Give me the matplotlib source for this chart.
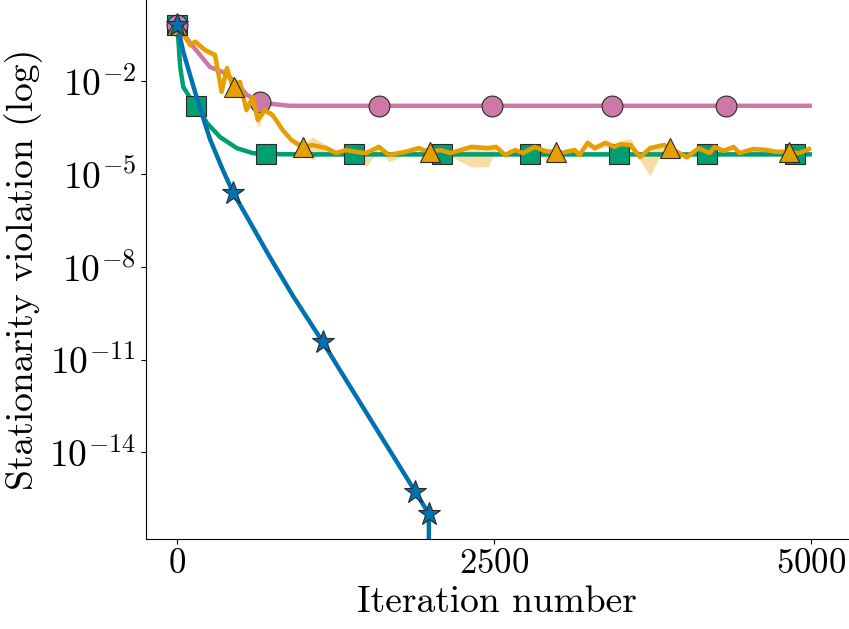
import numpy as np
import matplotlib
matplotlib.use("Agg")
import matplotlib.pyplot as plt

plt.rcParams["font.family"] = "serif"
plt.rcParams["font.serif"] = ["cmr10"]
plt.rcParams["mathtext.fontset"] = "cm"
plt.rcParams["axes.formatter.use_mathtext"] = True
plt.rcParams["font.size"] = 27

# --- data (log10 of stationarity violation) ---
blue_x = [0, 47, 157, 259, 360, 441, 572, 729, 909, 1147, 1277, 1878, 1985]
blue_log = [-0.19, -1.05, -2.59, -3.89, -4.88, -5.61, -6.55, -7.68, -8.92,
            -10.43, -11.30, -15.27, -15.99]
blue_zero_x = 1990  # violation hits exactly zero here
blue_mark_x = [0, 441, 1147, 1878, 1985]

green_x = [0, 23, 47, 102, 157, 235, 337, 470, 596, 752, 1000, 4990]
green_log = [-0.19, -1.55, -2.19, -2.55, -2.84, -3.36, -3.81, -4.17, -4.33,
             -4.36, -4.37, -4.37]
green_mark_x = [0, 149, 703, 1395, 2087, 2785, 3485, 4180, 4877]

pink_x = [0, 102, 180, 259, 361, 470, 549, 651, 752, 886, 4990]
pink_log = [-0.19, -0.77, -1.16, -1.55, -1.71, -2.06, -2.45, -2.68, -2.74,
            -2.80, -2.80]
pink_mark_x = [0, 650, 1591, 2484, 3433, 4328]

orange_x = [0, 102, 141, 219, 298, 350, 392, 439, 494, 546, 596, 635, 690,
            752, 831, 901, 987, 1066, 1176, 1254, 1332, 1411, 1489, 1591,
            1669, 1803, 1904, 1983, 2077, 2155, 2320, 2453, 2516, 2586, 2665,
            2727, 2821, 2900, 3025, 3135, 3174, 3237, 3292, 3378, 3448, 3495,
            3574, 3652, 3730, 3840, 3942, 4020, 4114, 4200, 4240, 4310, 4389,
            4436, 4545, 4647, 4726, 4828, 4906, 4984]
orange_log = [-0.19, -0.84, -0.73, -1.00, -1.16, -2.35, -1.58, -2.23, -2.03,
              -2.94, -2.52, -3.26, -2.94, -3.10, -3.58, -3.91, -4.13, -4.07,
              -4.17, -4.33, -4.23, -4.29, -4.33, -4.13, -4.39, -4.29, -4.17,
              -4.29, -4.23, -4.33, -4.13, -4.17, -4.13, -4.39, -4.23, -4.33,
              -4.13, -4.26, -4.33, -4.23, -4.39, -4.00, -4.17, -4.00, -4.13,
              -4.04, -4.07, -4.46, -4.17, -4.07, -4.29, -4.46, -4.17, -4.33,
              -4.13, -4.26, -4.13, -4.33, -4.20, -4.23, -4.29, -4.29, -4.33,
              -4.20]
# spread of the shaded band below / above the mean (in decades)
orange_down = [0.1] * 64
orange_up = [0.1] * 64
for i, d in [(11, 0.25), (17, 0.48), (22, 0.44), (24, 0.22), (30, 0.65),
             (31, 0.6), (37, 0.3), (48, 0.9)]:
    orange_down[i] = d
for i, u in [(17, 0.26), (41, 0.12), (46, 0.22)]:
    orange_up[i] = u
orange_mark_x = [0, 449, 993, 1996, 2988, 3885, 4823]

BLUE, ORANGE, GREEN, PINK = "#0072B2", "#E69F00", "#009E73", "#CC79A7"

fig = plt.figure(figsize=(8.49, 6.29), dpi=100)
ax = fig.add_axes([145.6 / 849, 90 / 629, 703.4 / 849, 539 / 629])
ax.set_yscale("log", nonpositive="clip")

mk = dict(linestyle="none", markeredgecolor="#2a2a2a", markeredgewidth=0.8)


def draw(x, logy, mark_x, color, marker, ms=15, down=None, up=None):
    x = np.asarray(x, float)
    logy = np.asarray(logy, float)
    down = np.full_like(logy, 0.06) if down is None else np.asarray(down)
    up = np.full_like(logy, 0.06) if up is None else np.asarray(up)
    ax.fill_between(x, 10 ** (logy - down), 10 ** (logy + up), color=color,
                    alpha=0.35, linewidth=0)
    ax.plot(x, 10 ** logy, color=color, lw=3.2)
    mx = np.asarray(mark_x, float)
    ax.plot(mx, 10 ** np.interp(mx, x, logy), marker=marker, color=color,
            markersize=ms, **mk)


draw(green_x, green_log, green_mark_x, GREEN, "s", ms=14)
draw(pink_x, pink_log, pink_mark_x, PINK, "o", ms=15)
draw(orange_x, orange_log, orange_mark_x, ORANGE, "^", ms=15,
     down=orange_down, up=orange_up)

# blue line ends by dropping to exactly zero
bx = np.append(blue_x, blue_zero_x)
by = np.append(10.0 ** np.array(blue_log), 0.0)
ax.plot(bx, by, color=BLUE, lw=3.2)
bmx = np.asarray(blue_mark_x, float)
ax.plot(bmx, 10 ** np.interp(bmx, blue_x, blue_log), marker="*", color=BLUE,
        markersize=17, **mk)

ax.set_xlim(-250, 5300)
ax.set_ylim(10 ** -16.8, 10 ** 0.618)
ax.set_xticks([0, 2500, 5000])
ax.set_yticks([1e-2, 1e-5, 1e-8, 1e-11, 1e-14])
ax.yaxis.set_minor_locator(matplotlib.ticker.NullLocator())
ax.tick_params(axis="x", labelsize=25)
ax.spines["top"].set_visible(False)
ax.spines["right"].set_visible(False)
ax.set_xlabel("Iteration number")
ax.set_ylabel("Stationarity violation (log)")

fig.savefig("out.png", dpi=100)
